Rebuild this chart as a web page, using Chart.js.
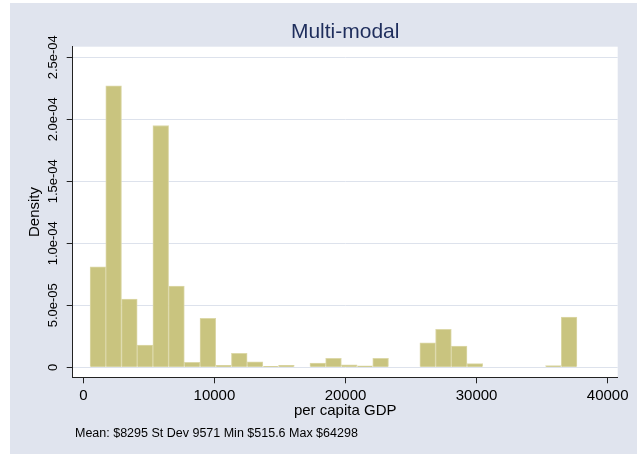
<!DOCTYPE html>
<html>
<head>
<meta charset="utf-8">
<script src="https://cdn.jsdelivr.net/npm/chart.js@4.4.1/dist/chart.umd.min.js"></script>
<style>
    html, body { margin: 0; padding: 0; background: #ffffff; }
    canvas { display: block; }
</style>
</head>
<body>
<canvas id="HistChart" width="637" height="455"></canvas>
<script>
// histogram bins: start at the minimum, fixed width
var binStart = 515.6;
var binWidth = 1198;
var density = [
    8.1e-5, 22.7e-5, 5.5e-5, 1.8e-5, 19.5e-5, 6.55e-5, 0.4e-5, 3.95e-5,
    0.15e-5, 1.12e-5, 0.45e-5, 0.08e-5, 0.16e-5, 0, 0.35e-5, 0.73e-5,
    0.19e-5, 0.11e-5, 0.73e-5, 0, 0, 1.98e-5, 3.06e-5, 1.72e-5,
    0.3e-5, 0, 0, 0, 0, 0.13e-5, 4.05e-5
];
var xTickValues = [0, 10000, 20000, 30000, 40000];
var xTickLabels = ['0', '10000', '20000', '30000', '40000'];
var yTickValues = [0, 5e-5, 1e-4, 1.5e-4, 2e-4, 2.5e-4];
var yTickLabels = ['0', '5.0e-05', '1.0e-04', '1.5e-04', '2.0e-04', '2.5e-04'];
var noteText = 'Mean: $8295 St Dev 9571 Min $515.6 Max $64298';

var binCenters = density.map(function (d, i) {
    return binStart + (i + 0.5) * binWidth;
});

Chart.defaults.font.family = '"Liberation Sans", Arial, sans-serif';
Chart.defaults.color = '#000000';

// Stata-like graph region + white plot region, and the note under the axis
var stataBg = {
    id: 'stataBg',
    beforeDraw: function (chart) {
        var ctx = chart.ctx;
        var a = chart.chartArea;
        ctx.save();
        ctx.fillStyle = '#ffffff';
        ctx.fillRect(0, 0, chart.width, chart.height);
        ctx.fillStyle = '#e0e4ee';
        ctx.fillRect(10, 3, chart.width - 10, chart.height - 4);
        ctx.fillStyle = '#ffffff';
        ctx.fillRect(a.left, a.top, a.right - a.left, a.bottom - a.top);
        ctx.restore();
    },
    afterDraw: function (chart) {
        var ctx = chart.ctx;
        ctx.save();
        ctx.font = '12.5px "Liberation Sans", Arial, sans-serif';
        ctx.fillStyle = '#000000';
        ctx.textAlign = 'left';
        ctx.textBaseline = 'alphabetic';
        ctx.fillText(noteText, 75, 437);
        ctx.restore();
    }
};

var ctx = document.getElementById('HistChart').getContext('2d');
var histChart = new Chart(ctx, {
    type: 'bar',
    data: {
        datasets: [{
            label: 'Density',
            data: binCenters.map(function (x, i) { return { x: x, y: density[i] }; }),
            backgroundColor: '#c9c47f',
            borderColor: '#dcd8a8',
            borderWidth: 1,
            barPercentage: 1,
            categoryPercentage: 1
        }]
    },
    options: {
        responsive: false,
        animation: false,
        devicePixelRatio: 1,
        layout: { padding: { left: 0, top: 0, right: 19.3, bottom: 0 } },
        plugins: {
            legend: { display: false },
            tooltip: { enabled: false },
            title: {
                display: true,
                text: 'Multi-modal',
                fullSize: false,
                color: '#1e2d5c',
                font: { size: 21, weight: 'normal' },
                padding: { top: 20, bottom: 1.5 }
            }
        },
        scales: {
            x: {
                type: 'linear',
                offset: false,
                min: -810,
                max: 40763,
                afterBuildTicks: function (scale) {
                    scale.ticks = xTickValues.map(function (v) { return { value: v }; });
                },
                afterFit: function (scale) { scale.height = 77.7; },
                grid: {
                    offset: false,
                    drawOnChartArea: false,
                    drawTicks: true,
                    tickLength: 6,
                    tickColor: '#222222',
                    lineWidth: 1
                },
                border: { display: true, color: '#222222', width: 1 },
                ticks: {
                    font: { size: 15 },
                    padding: 4,
                    maxRotation: 0,
                    autoSkip: false,
                    callback: function (value, index) { return xTickLabels[index]; }
                },
                title: {
                    display: true,
                    text: 'per capita GDP',
                    font: { size: 15 },
                    padding: { top: 0, bottom: 35 }
                }
            },
            y: {
                min: -8.06e-6,
                max: 2.585e-4,
                afterBuildTicks: function (scale) {
                    scale.ticks = yTickValues.map(function (v) { return { value: v }; });
                },
                afterFit: function (scale) { scale.width = 72.7; },
                grid: {
                    color: '#dde2ec',
                    lineWidth: 1,
                    drawTicks: true,
                    tickLength: 6,
                    tickColor: '#222222'
                },
                border: { display: true, color: '#222222', width: 1 },
                ticks: {
                    font: { size: 13 },
                    minRotation: 90,
                    maxRotation: 90,
                    crossAlign: 'center',
                    padding: -8.6,
                    autoSkip: false,
                    callback: function (value, index) { return yTickLabels[index]; }
                },
                title: {
                    display: true,
                    text: 'Density',
                    font: { size: 15 },
                    padding: { top: 25.5, bottom: 0 }
                }
            }
        }
    },
    plugins: [stataBg]
});
</script>
</body>
</html>
